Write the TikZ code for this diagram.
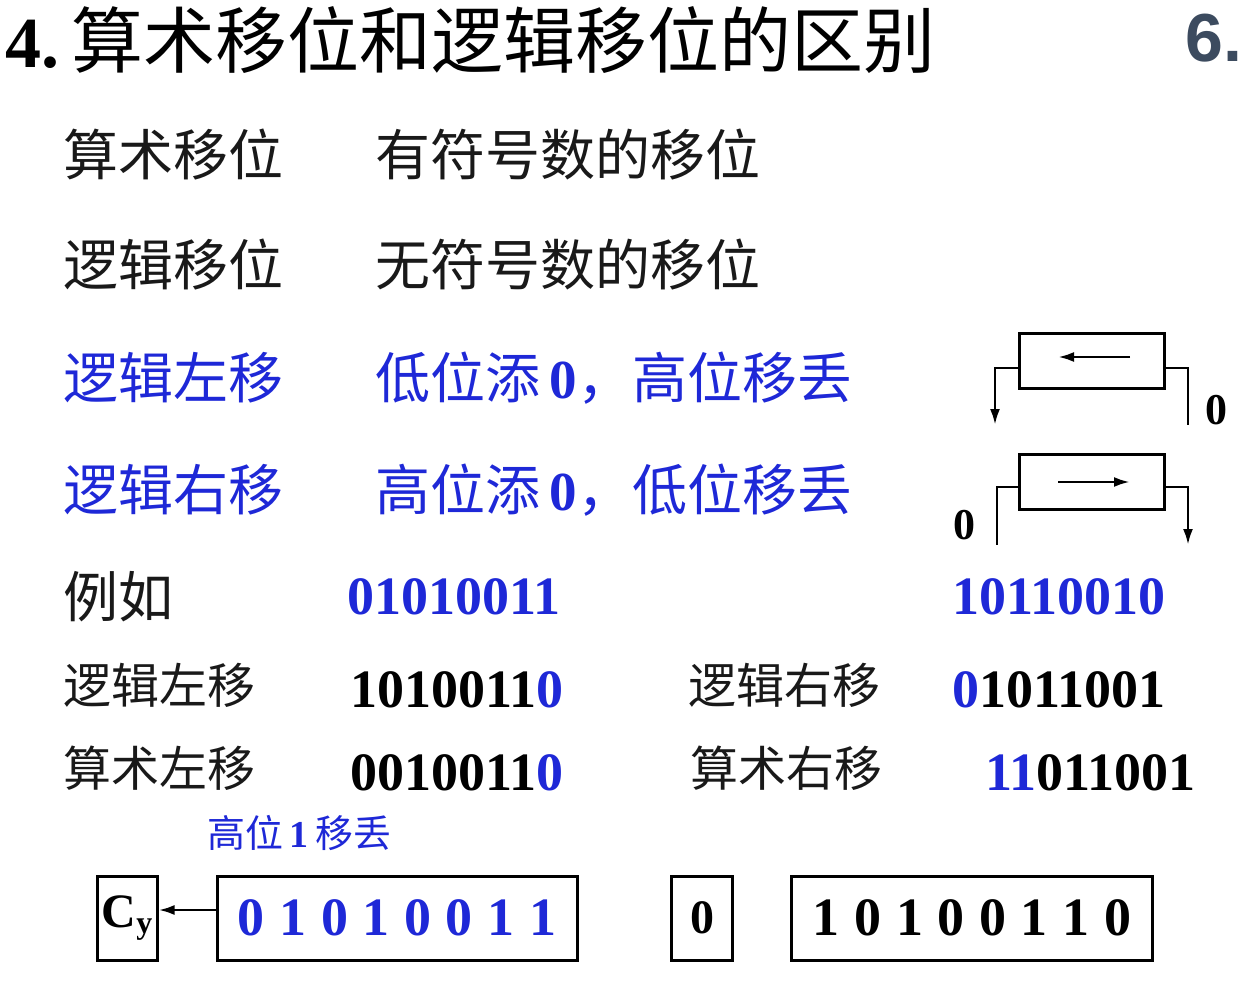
\documentclass[tikz,border=0pt]{standalone}
\usepackage{fontspec}
\setmainfont{Liberation Serif}
\newfontfamily\cjk{Noto Sans CJK SC}
\newfontfamily\sansf{Liberation Sans}
\usetikzlibrary{arrows.meta}
\definecolor{bl}{RGB}{30,40,215}
\definecolor{tx}{RGB}{25,25,25}
\newcommand\gp{\hspace{7.3pt}}
\begin{document}
\begin{tikzpicture}[x=0.5pt,y=-0.5pt,
  zh/.style={anchor=west,inner sep=0,text=tx,font=\cjk\fontsize{27.5}{27.5}\selectfont},
  zs/.style={anchor=west,inner sep=0,text=tx,font=\cjk\fontsize{24}{24}\selectfont},
  num/.style={anchor=west,inner sep=0,font=\bfseries\fontsize{27}{27}\selectfont},
  bx/.style={draw=black,line width=1.5pt},
  ln/.style={line width=1.4pt},
  ar/.style={ln,-{Latex[length=8pt,width=5pt]}}]
\useasboundingbox (0,0) rectangle (1243,995);
\node[anchor=west,inner sep=0,font=\fontsize{36}{36}\selectfont] (t) at (5,40) {\textbf{4.}\,{\cjk 算术移位和逻辑移位的区别}};
\node[anchor=east,inner sep=0,text={rgb,255:red,60;green,75;blue,95},font=\sansf\bfseries\fontsize{34}{34}\selectfont] (six) at (1243,38) {6.};
\node[zh] (a1) at (63,155) {算术移位};
\node[zh] (a2) at (375,155) {有符号数的移位};
\node[zh] (b1) at (63,265) {逻辑移位};
\node[zh] (b2) at (375,265) {无符号数的移位};
\node[zh,text=bl] (c1) at (63,378) {逻辑左移};
\node[zh,text=bl] (c2) at (375,378) {低位添\,{\fontspec{Liberation Serif}\bfseries 0}，高位移丢};
\node[zh,text=bl] (d1) at (63,490) {逻辑右移};
\node[zh,text=bl] (d2) at (375,490) {高位添\,{\fontspec{Liberation Serif}\bfseries 0}，低位移丢};
\node[zh] (e1) at (63,597) {例如};
\node[num,text=bl] (e2) at (347,597) {01010011};
\node[num,text=bl] (e3) at (952,597) {10110010};
\node[zs] (f1) at (63,685) {逻辑左移};
\node[num] (f2) at (350,690) {1010011\textcolor{bl}{0}};
\node[zs] (f3) at (688,685) {逻辑右移};
\node[num] (f4) at (952,690) {\textcolor{bl}{0}1011001};
\node[zs] (g1) at (63,768) {算术左移};
\node[num] (g2) at (350,773) {0010011\textcolor{bl}{0}};
\node[zs] (g3) at (690,768) {算术右移};
\node[num] (g4) at (985,773) {\textcolor{bl}{11}011001};
\node[anchor=west,inner sep=0,text=bl,font=\cjk\fontsize{19}{19}\selectfont] (h) at (207,833) {高位\,{\fontspec{Liberation Serif}\bfseries 1}\,移丢};
% shift diagrams
\node[bx,minimum width=72.5pt,minimum height=27.5pt,inner sep=0] (s1) at (1092,361) {};
\coordinate (s1l) at (995,425); \coordinate (s1r) at (1188,425);
\draw[ar] (s1.west|-0,368) -- (995,368) -- (s1l);
\draw[ln] (s1.east|-0,368) -- (1188,368) -- (s1r);
\draw[ar] (1130,357) -- (1058,357);
\node[inner sep=0,font=\bfseries\fontsize{22}{22}\selectfont] (z1) at (1216,410) {0};
\node[bx,minimum width=72.5pt,minimum height=27.5pt,inner sep=0] (s2) at (1092,482) {};
\coordinate (s2l) at (997,545); \coordinate (s2r) at (1188,545);
\draw[ln] (s2.west|-0,487) -- (997,487) -- (s2l);
\draw[ar] (s2.east|-0,487) -- (1188,487) -- (s2r);
\draw[ar] (1058,482) -- (1130,482);
\node[inner sep=0,font=\bfseries\fontsize{22}{22}\selectfont] (z2) at (964,525) {0};
% bottom registers
\node[bx,minimum width=30pt,minimum height=42pt,inner sep=0,font=\bfseries\fontsize{24}{24}\selectfont] (cy) at (127,918) {C\raisebox{-0.3ex}{\fontsize{16}{16}\selectfont y}};
\node[bx,minimum width=180pt,minimum height=42pt,inner sep=0,text=bl,font=\bfseries\fontsize{27}{27}\selectfont] (r1) at (397,918) {0\gp1\gp0\gp1\gp0\gp0\gp1\gp1};
\draw[ar] (r1.west|-0,910) -- (cy.east|-0,910);
\node[bx,minimum width=30.5pt,minimum height=42pt,inner sep=0,font=\bfseries\fontsize{24}{24}\selectfont] (zb) at (702,918) {0};
\node[bx,minimum width=180.5pt,minimum height=42pt,inner sep=0,font=\bfseries\fontsize{27}{27}\selectfont] (r2) at (972,918) {1\gp0\gp1\gp0\gp0\gp1\gp1\gp0};
\end{tikzpicture}
\end{document}
